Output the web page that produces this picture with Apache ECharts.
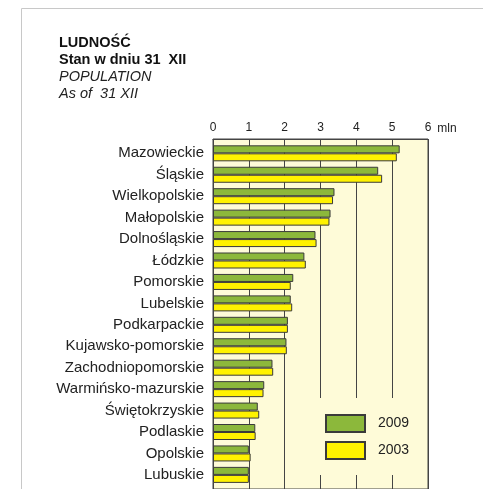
<!DOCTYPE html>
<html>
<head>
<meta charset="utf-8">
<script src="https://cdn.jsdelivr.net/npm/echarts@6/dist/echarts.min.js"></script>
<style>
  html, body { margin: 0; padding: 0; background: #fff; }
  #chart { width: 483px; height: 489px; }
</style>
</head>
<body>
<div id="chart"></div>
<script>
var regions = ['Mazowieckie', 'Śląskie', 'Wielkopolskie', 'Małopolskie', 'Dolnośląskie',
    'Łódzkie', 'Pomorskie', 'Lubelskie', 'Podkarpackie', 'Kujawsko-pomorskie',
    'Zachodniopomorskie', 'Warmińsko-mazurskie', 'Świętokrzyskie', 'Podlaskie', 'Opolskie', 'Lubuskie'];
var pop2009 = [5.21, 4.61, 3.39, 3.28, 2.86, 2.55, 2.24, 2.17, 2.09, 2.05, 1.66, 1.43, 1.25, 1.18, 1.00, 1.00];
var pop2003 = [5.13, 4.72, 3.35, 3.25, 2.89, 2.59, 2.17, 2.21, 2.09, 2.06, 1.68, 1.41, 1.29, 1.19, 1.05, 1.00];
var xMin = 0, xMax = 6, xStep = 1;
var unit = 'mln';

var cream = '#fefbd8';
var green = '#8cb83b';
var yellow = '#fff200';
var edge = '#3a3a3a';

var chart = echarts.init(document.getElementById('chart'));
chart.setOption({
    animation: false,
    textStyle: { fontFamily: 'Liberation Sans, Arial, sans-serif' },
    title: [{
        left: 59, top: 34, padding: 0,
        text: 'LUDNOŚĆ\nStan w dniu 31  XII',
        textStyle: { fontSize: 14.5, fontWeight: 'bold', color: '#111', lineHeight: 17.5 }
    }, {
        left: 59, top: 68, padding: 0,
        text: 'POPULATION\nAs of  31 XII',
        textStyle: { fontSize: 14.5, fontWeight: 'normal', fontStyle: 'italic', color: '#222', lineHeight: 17 }
    }],
    graphic: [{
        type: 'polyline',
        shape: { points: [[21.5, 489], [21.5, 8.5], [483, 8.5]] },
        style: { stroke: '#c8c8c8', lineWidth: 1, fill: null },
        silent: true
    }],
    legend: {
        orient: 'vertical',
        left: 313, top: 398,
        padding: [16, 12, 15, 12],
        backgroundColor: cream,
        itemWidth: 39, itemHeight: 17, itemGap: 8,
        icon: 'rect',
        data: ['2009', '2003'],
        textStyle: { fontSize: 14, color: '#222', padding: [0, 0, 0, 8] }
    },
    grid: [
        // bars
        { left: 213, width: 215, top: 142.6, height: 343 },
        // frame, scale and vertical lines
        { left: 213, width: 215, top: 139, height: 360, show: true,
          backgroundColor: cream, borderColor: '#444', borderWidth: 1 }
    ],
    xAxis: [{
        gridIndex: 0, type: 'value', min: xMin, max: xMax, interval: xStep, show: false
    }, {
        gridIndex: 1, type: 'value', min: xMin, max: xMax, interval: xStep,
        position: 'top',
        name: unit, nameLocation: 'end', nameGap: 5,
        nameTextStyle: { fontSize: 12, color: '#222', align: 'left', verticalAlign: 'bottom', padding: [0, 0, 4, 0] },
        axisLine: { show: true, onZero: false, lineStyle: { color: '#444', width: 1 } },
        axisTick: { show: false },
        axisLabel: { fontSize: 12, color: '#222', margin: 5 },
        splitLine: { show: true, lineStyle: { color: '#444', width: 1 } }
    }],
    yAxis: [{
        gridIndex: 0, type: 'category', data: regions, inverse: true,
        axisLine: { show: false }, axisTick: { show: false },
        axisLabel: { fontSize: 15, color: '#222', margin: 9 }
    }, {
        gridIndex: 1, type: 'value', show: false, min: 0, max: 1
    }],
    series: [{
        name: '2009', type: 'bar', xAxisIndex: 0, yAxisIndex: 0,
        data: pop2009, barWidth: 8, barGap: '0%',
        itemStyle: { color: green, borderColor: edge, borderWidth: 1 }
    }, {
        name: '2003', type: 'bar', xAxisIndex: 0, yAxisIndex: 0,
        data: pop2003, barWidth: 8, barGap: '0%',
        itemStyle: { color: yellow, borderColor: edge, borderWidth: 1 }
    }]
});
</script>
</body>
</html>
